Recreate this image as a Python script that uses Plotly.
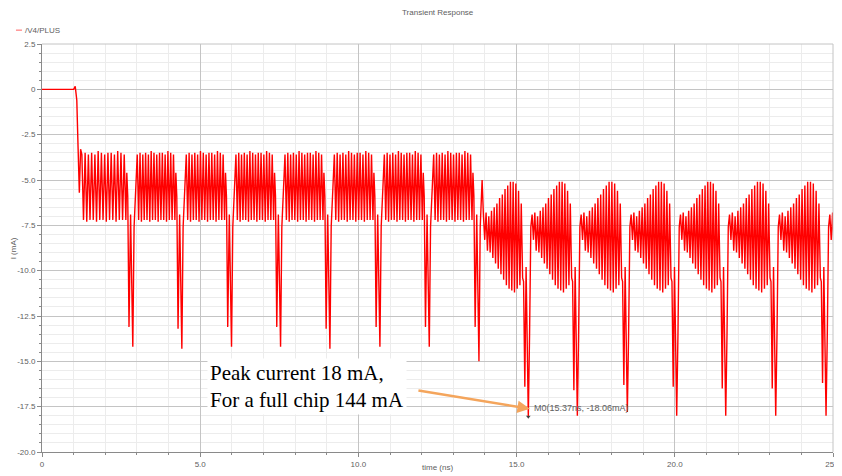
import numpy as np
import plotly.graph_objects as go

# ---------------- data ----------------
# start-up transient (ns, mA)
start_t = [0.0, 1.00, 1.05, 1.10, 1.14, 1.18, 1.22]
start_i = [0.0, 0.0, 0.17, -0.6, -3.2, -5.7, -3.3]

# deep current dips: time (ns), main spike (mA), preceding spike (mA), waveform phase
dip_t = [2.87, 4.42, 5.99, 7.54, 9.10, 10.68, 12.24, 13.81,
         15.37, 16.92, 18.50, 20.06, 21.61, 23.19, 24.78]
dip_main = [-14.2, -14.3, -14.2, -14.2, -14.3, -14.2, -14.2, -15.0,
            -18.06, -18.0, -17.8, -18.0, -18.0, -18.0, -18.0]
dip_pre = [-13.1, -13.2, -13.1, -13.1, -13.2, -13.1, -13.1, -13.1,
           -16.4, -16.6, -16.3, -16.4, -16.5, -16.5, -16.2]
dip_phase = [1, 1, 1, 1, 1, 1, 1, 1, 2, 2, 2, 2, 2, 2, 2]

# phase 1 ringing between dips: peak / trough of each cycle (mA)
p1_tops = [-3.6, -3.5, -3.6, -3.5, -3.6, -3.4, -3.5, -3.6, -3.5, -3.5, -3.6, -3.4, -3.5, -3.6]
p1_bots = [-7.2, -7.3, -7.2, -7.2, -7.3, -7.2, -7.2, -7.3, -7.2, -7.2, -7.3, -7.2, -7.2, -7.2]
# phase 1 dip shape: offsets (ns) and values (None -> pre spike, then main spike)
p1_dip_dt = [-0.19, -0.16, -0.12, -0.07, 0.0, 0.04, 0.10]
p1_dip_v = [-4.6, -5.9, None, -6.9, None, -7.6, -5.0]

# phase 2 ringing (growing sawtooth envelope)
p2_tops = [-6.9, -6.8, -7.0, -6.7, -6.5, -6.3, -6.0, -5.8, -5.5, -5.3, -5.1, -5.1, -5.2, -5.6, -6.3]
p2_bots = [-8.3, -8.9, -9.0, -9.3, -9.6, -9.9, -10.2, -10.5, -10.8, -11.0, -11.1, -11.2, -11.0, -10.8, -10.4]
p2_dip_dt = [-0.15, -0.11, -0.07, 0.0, 0.04, 0.08]
p2_dip_v = [-10.6, None, -9.8, None, -13.5, -7.6]

x_ticks = [0, 5, 10, 15, 20, 25]
x_ticktext = ["0", "5.0", "10.0", "15.0", "20.0", "25.0"]
y_ticks = [-20, -17.5, -15, -12.5, -10, -7.5, -5, -2.5, 0, 2.5]
y_ticktext = ["-20.0", "-17.5", "-15.0", "-12.5", "-10.0", "-7.5", "-5.0", "-2.5", "0", "2.5"]

marker_t, marker_i = 15.37, -18.06

# ---------------- assemble the waveform ----------------
phase_cfg = {
    1: dict(tops=p1_tops, bots=p1_bots, dt=p1_dip_dt, v=p1_dip_v, after=0.14),
    2: dict(tops=p2_tops, bots=p2_bots, dt=p2_dip_dt, v=p2_dip_v, after=0.12),
}


def ringing(t0, t1, tops, bots):
    vals = []
    for a, b in zip(tops, bots):
        vals += [a, b]
    return list(np.linspace(t0, t1, len(vals))), vals


t_all = list(start_t)
i_all = list(start_i)
osc_start = start_t[-1] + 0.04
for k, td in enumerate(dip_t):
    cfg = phase_cfg[dip_phase[k]]
    osc_end = td + cfg["dt"][0] - 0.03
    tt, vv = ringing(osc_start, osc_end, cfg["tops"], cfg["bots"])
    t_all += tt
    i_all += vv
    fill = iter([dip_pre[k], dip_main[k]])
    for dt, v in zip(cfg["dt"], cfg["v"]):
        t_all.append(td + dt)
        i_all.append(next(fill) if v is None else v)
    osc_start = td + cfg["after"]

# last (partial) block after the final dip
cfg = phase_cfg[2]
period = np.mean(np.diff(dip_t[8:]))
tt, vv = ringing(osc_start, dip_t[-1] + period + cfg["dt"][0] - 0.03, cfg["tops"], cfg["bots"])
for a, b in zip(tt, vv):
    t_all.append(a)
    i_all.append(b)
    if a > 25.05:
        break

# ---------------- figure ----------------
fig = go.Figure()
fig.add_trace(go.Scatter(x=t_all, y=i_all, mode="lines",
                         line=dict(color="#ff0000", width=1.4),
                         name="/V4/PLUS", showlegend=False, hoverinfo="skip"))
fig.add_trace(go.Scatter(x=[marker_t], y=[marker_i], mode="markers",
                         marker=dict(symbol="triangle-down", size=4, color="#404040"),
                         showlegend=False, hoverinfo="skip"))

gray = "#606060"
axis_common = dict(showline=True, linecolor="#8a8a8a", linewidth=1, automargin=False,
                   showgrid=True, gridcolor="#c4c4c4", gridwidth=1,
                   zeroline=False, ticks="outside", ticklen=4, tickcolor="#8a8a8a",
                   tickfont=dict(family="Liberation Sans, Arial", size=8, color=gray))

fig.update_xaxes(range=[0, 25], tickmode="array", tickvals=x_ticks, ticktext=x_ticktext,
                 minor=dict(dtick=1, tick0=0, showgrid=True, gridcolor="#ececec",
                            ticks="outside", ticklen=2, tickcolor="#8a8a8a"),
                 **axis_common)
fig.update_yaxes(range=[-20, 2.5], tickmode="array", tickvals=y_ticks, ticktext=y_ticktext,
                 minor=dict(dtick=0.5, tick0=0, showgrid=True, gridcolor="#ececec",
                            ticks="outside", ticklen=2, tickcolor="#8a8a8a"),
                 **axis_common)

# frame lines on top / right (light)
fig.add_shape(type="line", xref="paper", yref="paper", x0=0, x1=1, y0=1, y1=1,
              line=dict(color="#c4c4c4", width=1))
fig.add_shape(type="line", xref="paper", yref="paper", x0=1, x1=1, y0=0, y1=1,
              line=dict(color="#c4c4c4", width=1))

# legend-like label
fig.add_shape(type="line", xref="paper", yref="paper", x0=-0.0329, x1=-0.0253,
              y0=1.034, y1=1.034, line=dict(color="#ff6060", width=1))
annots = [
    dict(text="/V4/PLUS", xref="paper", yref="paper", x=-0.0235, y=1.034,
         xanchor="left", yanchor="middle", showarrow=False,
         font=dict(family="Liberation Sans, Arial", size=8, color=gray)),
    dict(text="Transient Response", xref="paper", yref="paper", x=0.5, y=1.076,
         xanchor="center", yanchor="middle", showarrow=False,
         font=dict(family="Liberation Sans, Arial", size=8, color=gray)),
    dict(text="time (ns)", xref="paper", yref="paper", x=0.5, y=-0.037,
         xanchor="center", yanchor="middle", showarrow=False,
         font=dict(family="Liberation Sans, Arial", size=8, color=gray)),
    dict(text="I (mA)", xref="paper", yref="paper", x=-0.0362, y=0.5, textangle=-90,
         xanchor="center", yanchor="middle", showarrow=False,
         font=dict(family="Liberation Sans, Arial", size=8, color=gray)),
    dict(text="M0(15.37ns, -18.06mA)", x=marker_t, y=marker_i, xref="x", yref="y",
         xanchor="left", yanchor="middle", xshift=4, yshift=9, showarrow=False,
         font=dict(family="Liberation Sans, Arial", size=9, color=gray)),
    dict(text="Peak current 18 mA,<br>For a full chip 144 mA", x=5.2, y=-16.38,
         xref="x", yref="y", xanchor="left", yanchor="middle", align="left",
         showarrow=False, bgcolor="white", borderpad=2,
         font=dict(family="Liberation Serif, Times New Roman, serif", size=21, color="black")),
    dict(text="", x=15.42, y=-17.62, xref="x", yref="y", ax=11.85, ay=-16.6,
         axref="x", ayref="y", showarrow=True, arrowhead=2, arrowsize=1,
         arrowwidth=2.5, arrowcolor="#f4a55c", standoff=0, startstandoff=0),
]
# the page body adds an 8px offset, so the figure is sized to fill the rest of the window
fig.update_layout(width=834, height=468, margin=dict(l=34, r=9, t=36, b=24),
                  plot_bgcolor="white", paper_bgcolor="white",
                  annotations=annots, showlegend=False)

fig.write_html("out.html")
